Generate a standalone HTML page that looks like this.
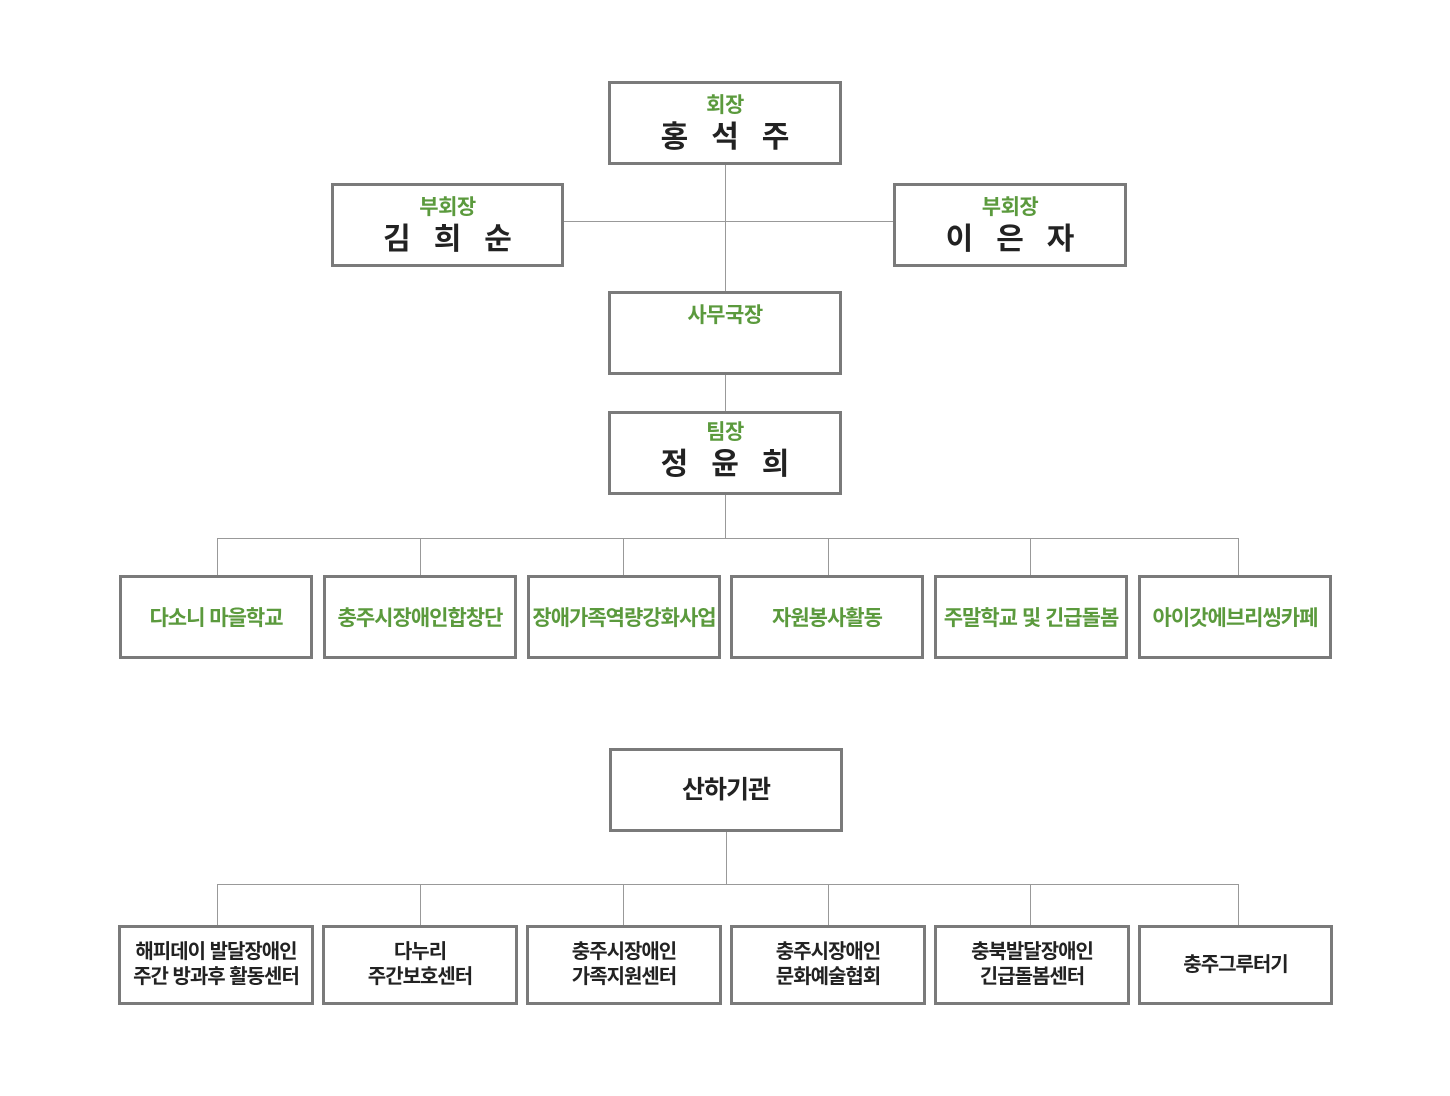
<!DOCTYPE html>
<html><head><meta charset="utf-8"><style>
body{margin:0;width:1450px;height:1096px;background:#fff;position:relative;font-family:"Liberation Sans","Noto Sans CJK KR",sans-serif;overflow:hidden}
.b{position:absolute;box-sizing:border-box;border:3px solid #7a7a7a;background:#fff;text-align:center}
.t{color:#5b9a3d;font-weight:bold;font-size:21px;line-height:24px;margin-top:10px;letter-spacing:-0.5px}
.n{color:#222;font-weight:bold;font-size:30px;line-height:36px;margin-top:2px;letter-spacing:23px;margin-left:23px}
.c{display:flex;align-items:center;justify-content:center;color:#5b9a3d;font-weight:bold;font-size:21px;letter-spacing:-1px}
.d{display:flex;align-items:center;justify-content:center;color:#222;font-weight:bold;font-size:20px;line-height:25px;letter-spacing:-1px}
.h{position:absolute;height:1px;background:#999}
.v{position:absolute;width:1px;background:#999}
</style></head><body>
<div class="v" style="left:725px;top:164px;height:127px"></div>
<div class="h" style="left:563px;top:221px;width:330px"></div>
<div class="v" style="left:725px;top:374px;height:37px"></div>
<div class="v" style="left:725px;top:494px;height:44px"></div>
<div class="h" style="left:217px;top:538px;width:1022px"></div>
<div class="v" style="left:217px;top:538px;height:37px"></div>
<div class="v" style="left:420px;top:538px;height:37px"></div>
<div class="v" style="left:623px;top:538px;height:37px"></div>
<div class="v" style="left:828px;top:538px;height:37px"></div>
<div class="v" style="left:1030px;top:538px;height:37px"></div>
<div class="v" style="left:1238px;top:538px;height:37px"></div>
<div class="v" style="left:726px;top:831px;height:53px"></div>
<div class="h" style="left:217px;top:884px;width:1022px"></div>
<div class="v" style="left:217px;top:884px;height:41px"></div>
<div class="v" style="left:420px;top:884px;height:41px"></div>
<div class="v" style="left:623px;top:884px;height:41px"></div>
<div class="v" style="left:828px;top:884px;height:41px"></div>
<div class="v" style="left:1030px;top:884px;height:41px"></div>
<div class="v" style="left:1238px;top:884px;height:41px"></div>

<div class="b" style="left:608px;top:81px;width:234px;height:84px"><div class="t">회장</div><div class="n">홍석주</div></div>
<div class="b" style="left:331px;top:183px;width:233px;height:84px"><div class="t">부회장</div><div class="n">김희순</div></div>
<div class="b" style="left:893px;top:183px;width:234px;height:84px"><div class="t">부회장</div><div class="n">이은자</div></div>
<div class="b" style="left:608px;top:291px;width:234px;height:84px"><div class="t" style="margin-top:10px">사무국장</div></div>
<div class="b" style="left:608px;top:411px;width:234px;height:84px"><div class="t" style="margin-top:7px">팀장</div><div class="n">정윤희</div></div>

<div class="b c" style="left:119px;top:575px;width:194px;height:84px">다소니 마을학교</div>
<div class="b c" style="left:323px;top:575px;width:194px;height:84px">충주시장애인합창단</div>
<div class="b c" style="left:527px;top:575px;width:194px;height:84px">장애가족역량강화사업</div>
<div class="b c" style="left:730px;top:575px;width:194px;height:84px">자원봉사활동</div>
<div class="b c" style="left:934px;top:575px;width:194px;height:84px">주말학교 및 긴급돌봄</div>
<div class="b c" style="left:1138px;top:575px;width:194px;height:84px">아이갓에브리씽카페</div>

<div class="b d" style="left:609px;top:748px;width:234px;height:84px;font-size:25px">산하기관</div>

<div class="b d" style="left:118px;top:925px;width:196px;height:80px">해피데이 발달장애인<br>주간 방과후 활동센터</div>
<div class="b d" style="left:322px;top:925px;width:196px;height:80px">다누리<br>주간보호센터</div>
<div class="b d" style="left:526px;top:925px;width:196px;height:80px">충주시장애인<br>가족지원센터</div>
<div class="b d" style="left:730px;top:925px;width:196px;height:80px">충주시장애인<br>문화예술협회</div>
<div class="b d" style="left:934px;top:925px;width:196px;height:80px">충북발달장애인<br>긴급돌봄센터</div>
<div class="b d" style="left:1138px;top:925px;width:195px;height:80px">충주그루터기</div>
</body></html>
